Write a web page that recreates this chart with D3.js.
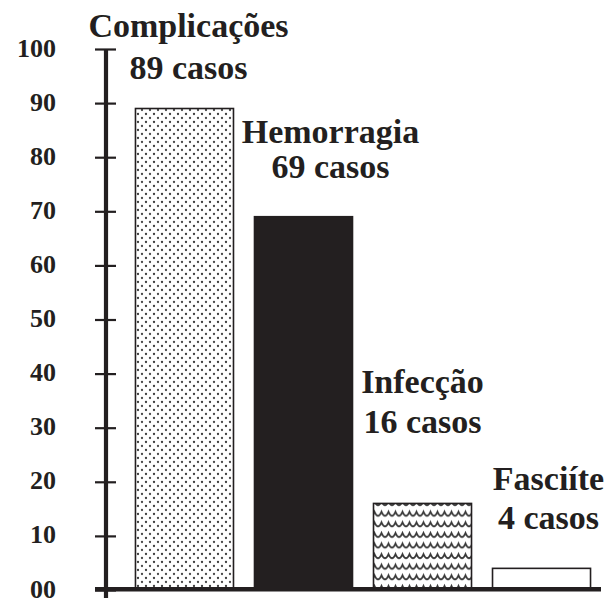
<!DOCTYPE html>
<html>
<head>
<meta charset="utf-8">
<script src="https://cdn.jsdelivr.net/npm/d3@7"></script>
<style>
  html, body { margin: 0; padding: 0; background: #fff; }
  svg { display: block; }
  text { font-family: "Liberation Serif", "Times New Roman", serif; font-weight: bold; fill: #231f20; }
</style>
</head>
<body>
<svg id="chart" width="612" height="598"></svg>
<script>
// ---- data ----
const categories = ["Complicações", "Hemorragia", "Infecção", "Fasciíte"];
const values = [89, 69, 16, 4];
const caseLabels = ["89 casos", "69 casos", "16 casos", "4 casos"];
const tickValues = [0, 10, 20, 30, 40, 50, 60, 70, 80, 90, 100];
const tickLabels = ["00", "10", "20", "30", "40", "50", "60", "70", "80", "90", "100"];

// ---- layout / style ----
const fills = ["url(#dots)", "#231f20", "url(#waves)", "#ffffff"];
const labelDx = [4, 27, 0, 7];      // label centre offset from bar centre
const labelGap = [30, 39, 70, 39];  // second-line baseline above bar top
const lineGap = [42, 35, 40, 39];   // distance between the two label lines
const ink = "#231f20";

const svg = d3.select("#chart");
const defs = svg.append("defs");

// dotted pattern
const pd = defs.append("pattern").attr("id", "dots").attr("patternUnits", "userSpaceOnUse")
  .attr("width", 8).attr("height", 8);
pd.append("rect").attr("width", 8).attr("height", 8).attr("fill", "#fff");
pd.append("circle").attr("cx", 2).attr("cy", 2).attr("r", 1.15).attr("fill", "#3d3d3d");
pd.append("circle").attr("cx", 6).attr("cy", 6).attr("r", 1.15).attr("fill", "#4a4a4a");

// wave pattern
const pw = defs.append("pattern").attr("id", "waves").attr("patternUnits", "userSpaceOnUse")
  .attr("width", 14).attr("height", 10.6);
pw.append("rect").attr("width", 14).attr("height", 10.6).attr("fill", "#fff");
pw.append("path").attr("d", "M0,7 Q1.75,7 3.5,3 Q5.25,7 7,7 Q8.75,7 10.5,3 Q12.25,7 14,7")
  .attr("fill", "none").attr("stroke", "#3a3a3a").attr("stroke-width", 1.8);

// scales
const x = d3.scaleBand().domain(categories).range([125, 601]).paddingInner(0.1765).paddingOuter(0.088);
const y = d3.scaleLinear().domain([0, 100]).range([590, 49]);

// bars
svg.selectAll("rect.bar").data(categories).join("rect")
  .attr("class", "bar")
  .attr("x", d => x(d))
  .attr("y", (d, i) => y(values[i]))
  .attr("width", x.bandwidth())
  .attr("height", (d, i) => y(0) - y(values[i]))
  .attr("fill", (d, i) => fills[i])
  .attr("stroke", ink)
  .attr("stroke-width", 1.6);

// y axis
const axisX = 106;
const yAxis = d3.axisLeft(y).tickValues(tickValues).tickSize(0).tickFormat("");
const ag = svg.append("g").attr("transform", `translate(${axisX},0)`).call(yAxis);
ag.select(".domain").remove();
ag.selectAll(".tick").append("line")
  .attr("x1", -11).attr("x2", 10)
  .attr("stroke", ink).attr("stroke-width", 2.2);
ag.selectAll(".tick").append("text")
  .attr("x", -50).attr("dy", "0.27em")
  .attr("text-anchor", "end")
  .style("font-size", "26px")
  .text((d, i) => tickLabels[i]);
ag.selectAll(".tick text").attr("fill", ink);

// axis line
svg.append("line").attr("x1", axisX).attr("x2", axisX)
  .attr("y1", y(100)).attr("y2", 598)
  .attr("stroke", ink).attr("stroke-width", 4.2);
// baseline
svg.append("line").attr("x1", 95).attr("x2", 601)
  .attr("y1", y(0) - 0.7).attr("y2", y(0) - 0.7)
  .attr("stroke", ink).attr("stroke-width", 4.6);

// labels
const lg = svg.append("g");
categories.forEach((c, i) => {
  const cx = x(c) + x.bandwidth() / 2 + labelDx[i];
  const by = y(values[i]) - labelGap[i];
  lg.append("text").attr("x", cx).attr("y", by - lineGap[i]).attr("text-anchor", "middle")
    .style("font-size", "34px").text(c);
  lg.append("text").attr("x", cx).attr("y", by).attr("text-anchor", "middle")
    .style("font-size", "34px").text(caseLabels[i]);
});
</script>
</body>
</html>
